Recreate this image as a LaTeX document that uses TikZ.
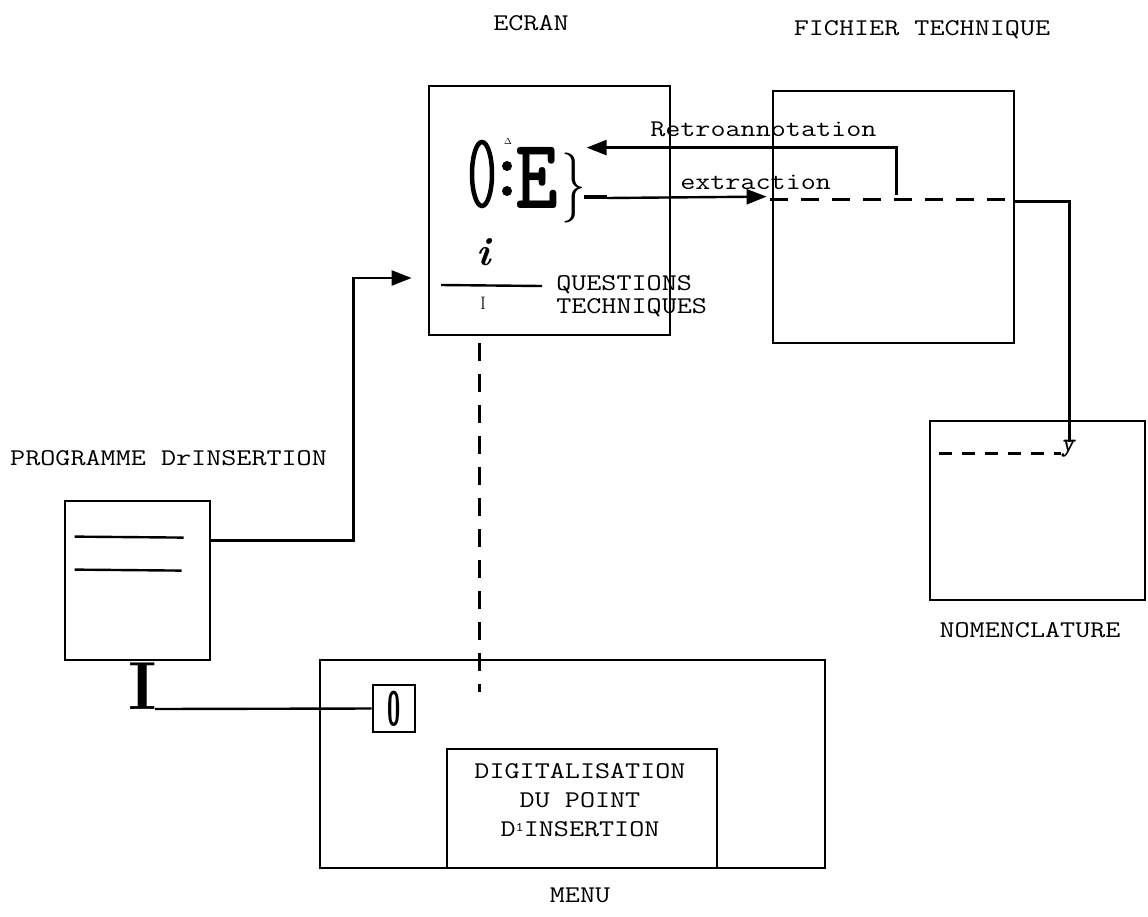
\documentclass[tikz,border=0pt]{standalone}
\usepackage{fontspec}
\usetikzlibrary{arrows.meta,calc}
\newcommand\txf{\ttfamily\fontsize{24}{29}\selectfont}
\begin{document}
\begin{tikzpicture}[x=1pt,y=-1pt,
  box/.style={draw,line width=2.8pt,inner sep=0pt},
  lbl/.style={font=\txf,inner sep=0pt,xscale=1.22},
  conn/.style={line width=2.4pt},
  tip/.style={-{Triangle[length=20pt,width=15pt]}},
  dashline/.style={line width=2.4pt,dash pattern=on 18pt off 13pt},
  glyph/.style={inner sep=0pt}]
\useasboundingbox (0,0) rectangle (1148,916);
% boxes
\node[box,minimum width=241pt,minimum height=249pt] (ecran) at (549.5,210.5) {};
\node[box,minimum width=241pt,minimum height=252pt] (fich) at (893.5,217) {};
\node[box,minimum width=215pt,minimum height=179pt] (nomen) at (1037.5,510.5) {};
\node[box,minimum width=145pt,minimum height=159pt] (prog) at (137.5,580.5) {};
\node[box,minimum width=505pt,minimum height=208pt] (menu) at (572.5,764) {};
\node[box,minimum width=270pt,minimum height=119pt] (digit) at (582,808.5) {};
\node[box,minimum width=42pt,minimum height=47pt] (zero) at (394,708.5) {};
% labels
\node[lbl] (lecran) at (531,23) {ECRAN};
\node[lbl] (lfich) at (922,30) {FICHIER TECHNIQUE};
\node[lbl,anchor=west] (lretro) at (650,129) {Retroannotation};
\node[lbl,anchor=west] (lextr) at (680,182) {extraction};
\node[lbl,anchor=west] (lq1) at (556,285) {QUESTIONS};
\node[lbl,anchor=west] (lq2) at (556,308) {TECHNIQUES};
\node[lbl,anchor=west] (lprog) at (10,458) {PROGRAMME DrINSERTION};
\node[lbl] (lnomen) at (1030,630) {NOMENCLATURE};
\node[lbl] (lmenu) at (580,895) {MENU};
\node[lbl,align=center] (ldigit) at (580,800) {DIGITALISATION\\DU POINT\\D\raisebox{5pt}{\fontsize{13}{13}\selectfont 1}INSERTION};
% ecran symbols
\draw[line width=4.5pt] (482,174) ellipse [x radius=10, y radius=32];
\fill (507,166) circle [radius=5];
\fill (507,191) circle [radius=5];
\node[glyph,font=\fontsize{9}{9}\selectfont] (tri) at (508,141) {$\Delta$};
\node[glyph,font=\ttfamily\bfseries\fontsize{100}{100}\selectfont,xscale=0.82] (bigE) at (537,178) {E};
\node[glyph,font=\fontsize{70}{70}\selectfont,xscale=0.7] (brace) at (574,188) {\}};
\draw[line width=4pt] (584,197) -- (607,197);
\node[glyph,font=\bfseries\itshape\fontsize{40}{40}\selectfont] (ii) at (484,252) {i};
\draw[conn] (441,285) -- (542,286);
\node[glyph,font=\fontsize{18}{18}\selectfont] (smallI) at (483,303) {I};
% connectors
\coordinate (r0) at ($(fich.north west)+(125,105)$);
\coordinate (rtip) at ($(ecran.north west)+(159,63)$);
\draw[conn,tip] (r0) |- (rtip);
\coordinate (e0) at (607,198);
\coordinate (etip) at ($(fich.north west)+(-5,107)$);
\draw[conn,tip] (e0) -- (etip);
\coordinate (fd0) at ($(fich.north west)+(-2,110)$);
\coordinate (fd1) at ($(fich.north east)+(-9,110)$);
\draw[dashline] (fd0) -- (fd1);
\coordinate (f0) at ($(fich.north east)+(0,112)$);
\coordinate (yend) at ($(nomen.north west)+(141,22)$);
\draw[conn] (f0) -| (yend);
\node[glyph,font=\ttfamily\bfseries\itshape\fontsize{26}{26}\selectfont] (ylab) at (1068,449) {y};
\coordinate (nd0) at ($(nomen.north west)+(10,34)$);
\coordinate (nd1) at ($(nomen.north west)+(132,34)$);
\draw[line width=2.4pt,dash pattern=on 13pt off 10pt] (nd0) -- (nd1);
\coordinate (v0) at ($(ecran.south west)+(52,7)$);
\coordinate (v1) at ($(menu.north west)+(161,33)$);
\draw[dashline] (v0) -- (v1);
\coordinate (p0) at ($(prog.north east)+(0,41)$);
\coordinate (ptip) at ($(ecran.west)+(-16,67.5)$);
\draw[conn,tip] (p0) -- ++(142,0) |- (ptip);
\draw[conn] ($(prog.north west)+(11,37)$) -- ($(prog.north west)+(120,38)$);
\draw[conn] ($(prog.north west)+(11,70)$) -- ($(prog.north west)+(118,71)$);
\node[glyph,font=\rmfamily\bfseries\fontsize{68}{68}\selectfont] (bigI) at (143,686) {I};
\coordinate (i0) at (155,709);
\draw[conn] (i0) -- (zero.west);
\node[glyph,font=\sffamily\bfseries\fontsize{48}{48}\selectfont,xscale=0.5] (zlab) at (394,709) {0};
\end{tikzpicture}
\end{document}
